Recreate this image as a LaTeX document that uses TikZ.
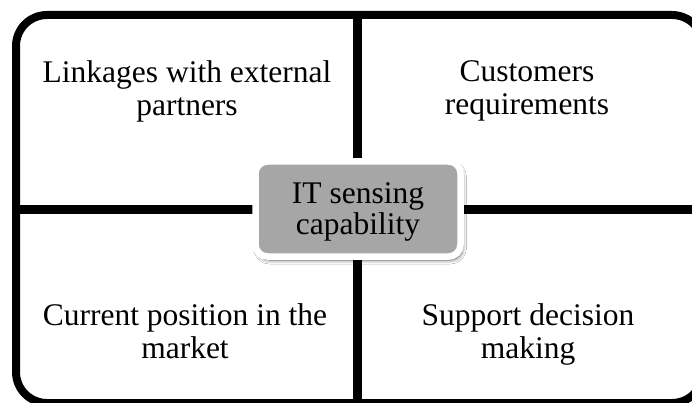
\documentclass[tikz,border=0pt]{standalone}
\usepackage{fontspec}
\setmainfont{Liberation Serif}
\usetikzlibrary{shadows.blur}

\definecolor{hubgray}{HTML}{A6A6A6}

\tikzset{
  framebox/.style={draw=black, line width=8pt, rounded corners=31pt, fill=white,
    blur shadow={shadow xshift=-2pt, shadow yshift=-2pt, shadow blur steps=6, shadow opacity=35}},
  divider/.style={draw=black, line width=8.5pt},
  quadtext/.style={anchor=north, align=center, inner sep=0pt,
    font=\fontsize{31.5}{33.5}\selectfont},
  hub/.style={draw=white, line width=6.5pt, fill=hubgray, rounded corners=12pt,
    minimum width=205pt, minimum height=95pt, inner sep=0pt,
    blur shadow={shadow xshift=2pt, shadow yshift=-3.5pt, shadow blur steps=8,
      shadow blur radius=4pt, shadow opacity=60}},
  hubtext/.style={anchor=north, align=center, inner sep=0pt,
    font=\fontsize{31.5}{31}\selectfont}
}

\begin{document}
\begin{tikzpicture}[x=1pt, y=-1pt]
  \useasboundingbox (0,0) rectangle (692,403);
  \clip (0,0) rectangle (692,403);

  % outer frame (runs past the right and bottom edges)
  \path[framebox] (16,15) rectangle (703,403);

  % quadrant dividers
  \coordinate (vtop) at (357.5,15);
  \coordinate (vbot) at (357.5,403);
  \coordinate (hl) at (16,209.5);
  \coordinate (hr) at (703,209.5);
  \draw[divider] (vtop) -- (vbot);
  \draw[divider] (hl) -- (hr);

  % quadrant labels
  \node[quadtext] (tl) at (187,60) {Linkages with external\\partners};
  \node[quadtext] (tr) at (527,60) {Customers\\requirements};
  \node[quadtext] (bl) at (185,303) {Current position in the\\market};
  \node[quadtext] (br) at (528,303) {Support decision\\making};

  % central hub
  \node[hub] (hub) at (358,209) {};
  \node[hubtext] (hubl) at (358,182) {IT sensing\\capability};
\end{tikzpicture}
\end{document}
